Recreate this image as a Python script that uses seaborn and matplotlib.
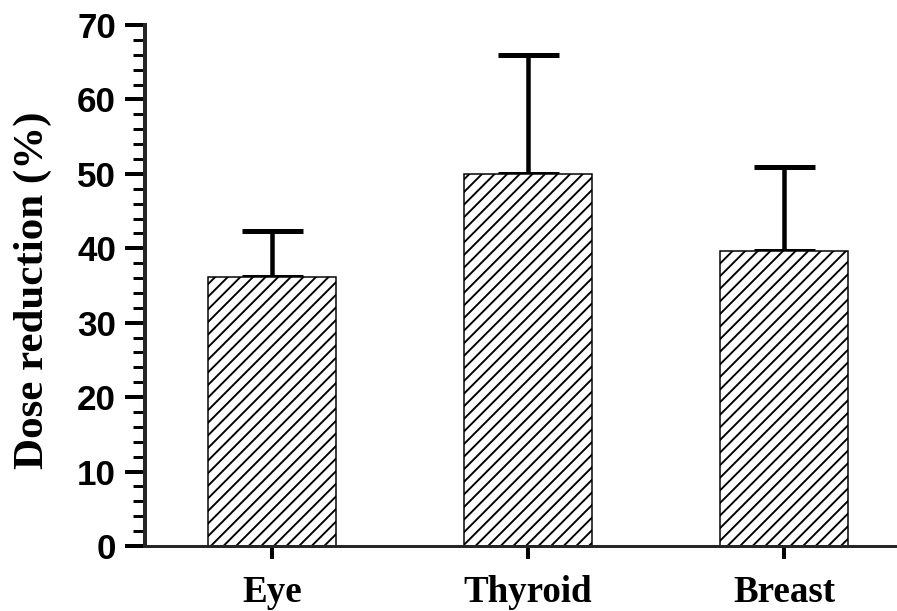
import matplotlib
matplotlib.use("Agg")
import matplotlib.pyplot as plt
from matplotlib.collections import LineCollection
from matplotlib.transforms import IdentityTransform
import seaborn as sns
import pandas as pd
import numpy as np
from matplotlib.ticker import MultipleLocator

organs = ["Eye", "Thyroid", "Breast"]
reduction = [36.1, 50.0, 39.6]
err_upper = [6.2, 16.0, 11.3]

DPI = 100
def pt(px):
    return px * 72.0 / DPI

sns.set_style("ticks")

fig = plt.figure(figsize=(897 / DPI, 611 / DPI), dpi=DPI)
ax = fig.add_axes([145 / 897, 65 / 611, 752 / 897, 521 / 611])

df = pd.DataFrame({"organ": organs, "reduction": reduction})
sns.barplot(data=df, x="organ", y="reduction", color="white", edgecolor="black",
            linewidth=pt(1.5), width=0.5, errorbar=None, ax=ax, zorder=2)
for p in ax.patches:
    p.set_facecolor("white")
    p.set_edgecolor("black")

xpos = np.arange(len(organs))
ax.errorbar(xpos, reduction, yerr=[np.zeros(len(organs)), err_upper], fmt="none",
            ecolor="black", elinewidth=pt(4.5), capsize=pt(30.5), capthick=pt(5), zorder=1)

ax.set_xlim(-0.496, 2.441)
ax.set_ylim(0, 70)
ax.yaxis.set_major_locator(MultipleLocator(10))
ax.yaxis.set_minor_locator(MultipleLocator(2))

# diagonal hatch (pixel-spaced) clipped to each bar
spacing = 12.6
offsets = np.arange(-900, 900, spacing)
segs = [[(o, 0), (o + 1000, 1000)] for o in offsets]
for p in list(ax.patches):
    lc = LineCollection(segs, colors="black", linewidths=pt(1.9),
                        transform=IdentityTransform(), zorder=2.5)
    ax.add_collection(lc, autolim=False)
    lc.set_clip_path(p)
ax.set_xlim(-0.496, 2.441)
ax.set_ylim(0, 70)

sns.despine(ax=ax)
ax.spines["left"].set_linewidth(pt(4))
ax.spines["bottom"].set_linewidth(pt(3))

ax.tick_params(axis="y", which="major", length=pt(20), width=pt(4), pad=pt(9), color="black")
ax.tick_params(axis="y", which="minor", length=pt(12), width=pt(3), color="black")
ax.tick_params(axis="x", which="major", length=pt(13), width=pt(4), pad=pt(16), color="black")

for lab in ax.get_yticklabels():
    lab.set_fontfamily("Liberation Sans")
    lab.set_fontweight("bold")
    lab.set_fontsize(pt(35))
    lab.set_color("black")
for lab in ax.get_xticklabels():
    lab.set_fontfamily("Liberation Serif")
    lab.set_fontweight("bold")
    lab.set_fontsize(pt(37))
    lab.set_color("black")

ax.set_xlabel("")
ax.set_ylabel("Dose reduction (%)", fontfamily="Liberation Serif", fontweight="bold",
              fontsize=pt(43), color="black")
ax.yaxis.set_label_coords(-93 / 752, 0.49)

fig.savefig("out.png", dpi=DPI)
